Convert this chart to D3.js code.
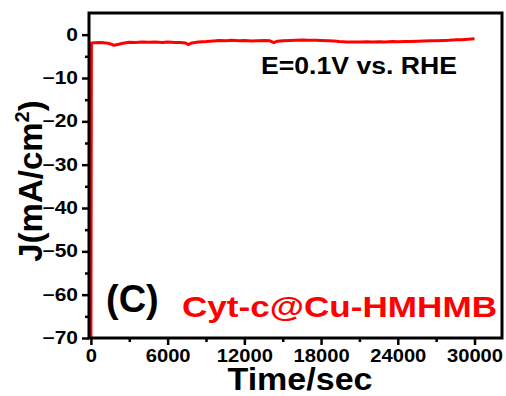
<!DOCTYPE html>
<html><head><meta charset="utf-8">
<script src="https://cdn.jsdelivr.net/npm/d3@7/dist/d3.min.js"></script>
<style>
body{margin:0;background:#fff}
text{font-family:"Liberation Sans",Arial,sans-serif;font-weight:bold}
</style>
</head><body>
<svg id="chart" width="506" height="396"></svg>
<script>
// ---- data ----
const time = [0, 40, 300, 700, 1000, 1300, 1600, 1800, 2100, 2500, 3000, 3500, 4000, 4600, 5000, 5600, 6000, 6600, 7000, 7400, 7600, 7900, 8400, 9000, 9600, 10000, 10600, 11000, 11600, 12000, 12600, 13000, 13600, 14000, 14300, 14600, 15000, 15600, 16000, 16600, 17000, 17600, 18000, 18600, 19000, 19400, 20000, 20600, 21000, 21600, 22000, 22600, 23000, 23600, 24000, 24600, 25000, 25600, 26000, 26600, 27000, 27600, 28000, 28600, 29000, 29500, 30000];
const current = [-70, -1.9, -1.85, -1.8, -1.85, -1.95, -2.2, -2.45, -2.25, -2.0, -1.75, -1.8, -1.7, -1.75, -1.7, -1.8, -1.72, -1.78, -1.8, -1.9, -2.3, -1.9, -1.7, -1.6, -1.45, -1.35, -1.4, -1.3, -1.38, -1.32, -1.45, -1.4, -1.35, -1.42, -1.85, -1.5, -1.4, -1.35, -1.3, -1.25, -1.28, -1.3, -1.35, -1.4, -1.45, -1.6, -1.7, -1.68, -1.72, -1.66, -1.7, -1.65, -1.67, -1.6, -1.62, -1.55, -1.58, -1.5, -1.48, -1.42, -1.4, -1.32, -1.3, -1.2, -1.15, -1.05, -0.95];
const xTicks = [0, 6000, 12000, 18000, 24000, 30000];
const xMinorTicks = [3000, 9000, 15000, 21000, 27000];
const yTicks = [0, -10, -20, -30, -40, -50, -60, -70];
const yMinorTicks = [-5, -15, -25, -35, -45, -55, -65];
const xTitle = "Time/sec";
const yTitle = "J(mA/cm";
const conditionLabel = "E=0.1V vs. RHE";
const panelLabel = "(C)";
const sampleLabel = "Cyt-c@Cu-HMHMB";

// ---- layout ----
const L = 89, T = 13, R = 502, B = 338;
const svg = d3.select("#chart");
const x = d3.scaleLinear().domain([-150, 32150]).range([L, R]);
const y = d3.scaleLinear().domain([-70, 5]).range([B, T]);

svg.append("defs").append("clipPath").attr("id","clip")
  .append("rect").attr("x", L).attr("y", T).attr("width", R-L).attr("height", B-T);

// axes
const xAxis = svg.append("g").attr("transform", `translate(0,${B})`)
  .call(d3.axisBottom(x).tickValues(xTicks).tickSize(7).tickSizeOuter(0).tickPadding(4).tickFormat(d3.format("d")));
const xMinor = svg.append("g").attr("transform", `translate(0,${B})`)
  .call(d3.axisBottom(x).tickValues(xMinorTicks).tickSize(4).tickSizeOuter(0).tickFormat(""));
const yAxis = svg.append("g").attr("transform", `translate(${L},0)`)
  .call(d3.axisLeft(y).tickValues(yTicks).tickSize(7).tickSizeOuter(0).tickPadding(4).tickFormat(d3.format("d")));
const yMinor = svg.append("g").attr("transform", `translate(${L},0)`)
  .call(d3.axisLeft(y).tickValues(yMinorTicks).tickSize(4).tickSizeOuter(0).tickFormat(""));

[xAxis, xMinor, yAxis, yMinor].forEach(g => {
  g.select(".domain").remove();
  g.selectAll(".tick line").attr("stroke", "#000").attr("stroke-width", 2.5);
});
xAxis.selectAll(".tick text").attr("font-size", 18).attr("fill", "#000")
  .attr("font-family", "Liberation Sans, Arial, sans-serif").attr("font-weight", "bold")
  .each(function(){ const w = this.getComputedTextLength(); d3.select(this).attr("textLength", w*1.12).attr("lengthAdjust","spacingAndGlyphs"); });
yAxis.selectAll(".tick text").attr("font-size", 17.5).attr("fill", "#000")
  .attr("font-family", "Liberation Sans, Arial, sans-serif").attr("font-weight", "bold")
  .each(function(){ const w = this.getComputedTextLength(); d3.select(this).attr("textLength", w*1.2).attr("lengthAdjust","spacingAndGlyphs"); });

// data line
const line = d3.line().x((d,i) => x(time[i])).y(d => y(d));
svg.append("path").datum(current)
  .attr("clip-path", "url(#clip)")
  .attr("d", line)
  .attr("fill", "none").attr("stroke", "#ff0000").attr("stroke-width", 3)
  .attr("stroke-linejoin", "round");

// frame
svg.append("rect").attr("x", L).attr("y", T).attr("width", R-L).attr("height", B-T)
  .attr("fill", "none").attr("stroke", "#000").attr("stroke-width", 3);

// texts
svg.append("text").attr("x", 261).attr("y", 74).attr("font-size", 23).attr("fill", "#000")
  .attr("textLength", 196).attr("lengthAdjust", "spacingAndGlyphs").text(conditionLabel);
svg.append("text").attr("x", 106).attr("y", 312).attr("font-size", 38).attr("fill", "#000")
  .text(panelLabel);
svg.append("text").attr("x", 182).attr("y", 317).attr("font-size", 30).attr("fill", "#ff0000")
  .attr("textLength", 315).attr("lengthAdjust", "spacingAndGlyphs").text(sampleLabel);

svg.append("text").attr("x", 300).attr("y", 390).attr("text-anchor", "middle")
  .attr("font-size", 32).attr("fill", "#000")
  .attr("textLength", 145).attr("lengthAdjust", "spacingAndGlyphs").text(xTitle);

const yt = svg.append("text").attr("transform", "translate(42,181) rotate(-90)")
  .attr("text-anchor", "middle").attr("font-size", 33).attr("fill", "#000");
yt.append("tspan").text(yTitle);
yt.append("tspan").attr("font-size", 20).attr("dy", -13).text("2");
yt.append("tspan").attr("dy", 13).text(")");
</script>
</body></html>
